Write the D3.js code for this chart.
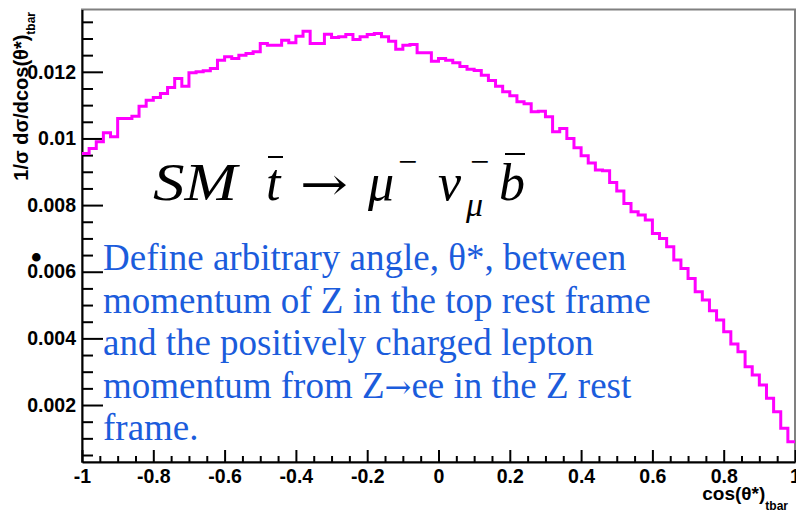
<!DOCTYPE html>
<html lang="en">
<head>
<meta charset="UTF-8">
<title>cos(theta*) tbar</title>
<script src="https://d3js.org/d3.v7.min.js"></script>
<style>
  body { margin: 0; background: #fff; }
  svg { display: block; }
  .axis path, .axis line { stroke: #000; stroke-width: 2px; }
  .axis text { font-family: "Liberation Sans", Arial, sans-serif; font-weight: bold; font-size: 19.5px; fill: #000; }
  .title { font-family: "Liberation Sans", Arial, sans-serif; font-weight: bold; fill: #000; }
  .math { font-family: "Liberation Serif", "Times New Roman", serif; font-style: italic; font-size: 52px; fill: #000; }
  .note { font-family: "Liberation Serif", "Times New Roman", serif; font-size: 37px; fill: #1b5cdc; }
</style>
</head>
<body>
<div id="chart"></div>
<script>
// histogram, 100 bins of cos(theta*) between -1 and 1
const xRange = [-1, 1];
const binCount = 100;
const binValues = [
  0.00955, 0.0097, 0.0099, 0.01017, 0.01005, 0.0106, 0.0106, 0.01067, 0.01097, 0.01115,
  0.01123, 0.01135, 0.01153, 0.0118, 0.01157, 0.01197, 0.012, 0.01203, 0.0121, 0.01235,
  0.01245, 0.0124, 0.0125, 0.01255, 0.0126, 0.01285, 0.0128, 0.0128, 0.01295, 0.01287,
  0.01307, 0.01322, 0.01285, 0.01285, 0.01313, 0.01303, 0.01305, 0.01312, 0.01297, 0.01305,
  0.01312, 0.01315, 0.01305, 0.01292, 0.01268, 0.0128, 0.01282, 0.01257, 0.01257, 0.01232,
  0.0124, 0.01235, 0.01227, 0.01216, 0.01208, 0.01204, 0.0119, 0.01174, 0.01157, 0.0114,
  0.01128, 0.0111, 0.01104, 0.0108, 0.01082, 0.01065, 0.0102, 0.0103, 0.0100, 0.00972,
  0.00948, 0.00926, 0.00905, 0.00903, 0.00868, 0.00842, 0.00805, 0.0078, 0.0077, 0.00755,
  0.00715, 0.007, 0.00675, 0.00635, 0.0061, 0.0058, 0.0054, 0.00515, 0.00483, 0.00455,
  0.0042, 0.00383, 0.0036, 0.00315, 0.0029, 0.0026, 0.0022, 0.0018, 0.0013, 0.0009
];

const yRange = [0.00029, 0.01387];
const xTicks = [-1, -0.8, -0.6, -0.4, -0.2, 0, 0.2, 0.4, 0.6, 0.8, 1];
const xTickLabels = ["-1", "-0.8", "-0.6", "-0.4", "-0.2", "0", "0.2", "0.4", "0.6", "0.8", "1"];
const yTicks = [0.002, 0.004, 0.006, 0.008, 0.01, 0.012];
const yTickLabels = ["0.002", "0.004", "0.006", "0.008", "0.01", "0.012"];

// blue note, the arrow of line 4 is split out to get a wider glyph
const noteLines = [
  ["Define arbitrary angle, θ*, between"],
  ["momentum of Z in the top rest frame"],
  ["and the positively charged lepton"],
  ["momentum from Z", "→", "ee in the Z rest"],
  ["frame."]
];

const width = 796, height = 518;
const svg = d3.select("#chart").append("svg")
    .attr("width", width)
    .attr("height", height);

const x = d3.scaleLinear().domain(xRange).range([82, 795]);
const y = d3.scaleLinear().domain(yRange).range([462, 9.5]);

// frame (top/right grey)
svg.append("rect")
    .attr("x", x(xRange[0])).attr("y", y(yRange[1]))
    .attr("width", x(xRange[1]) - x(xRange[0]))
    .attr("height", y(yRange[0]) - y(yRange[1]))
    .attr("fill", "none")
    .attr("stroke", "#808080")
    .attr("stroke-width", 2);

// minor ticks
const binWidth = (xRange[1] - xRange[0]) / binCount;
const xMinor = d3.range(-0.95, 1, 0.05).filter(v => Math.abs(Math.round(v * 5) - v * 5) > 1e-6);
const yMinor = d3.range(0.0005, yRange[1], 0.0005).filter(v => Math.abs(Math.round(v * 500) - v * 500) > 1e-6);

svg.append("g")
    .attr("class", "axis")
    .attr("transform", `translate(0,${y(yRange[0])})`)
    .call(d3.axisBottom(x).tickValues(xMinor).tickSizeInner(-6).tickSizeOuter(0).tickFormat(""))
    .call(g => g.select(".domain").remove());

svg.append("g")
    .attr("class", "axis")
    .attr("transform", `translate(${x(xRange[0])},0)`)
    .call(d3.axisLeft(y).tickValues(yMinor).tickSizeInner(-11).tickSizeOuter(0).tickFormat(""))
    .call(g => g.select(".domain").remove());

// major axes
svg.append("g")
    .attr("class", "axis")
    .attr("transform", `translate(0,${y(yRange[0])})`)
    .call(d3.axisBottom(x).tickValues(xTicks).tickSizeInner(-12).tickSizeOuter(0)
        .tickPadding(7).tickFormat((d, i) => xTickLabels[i]));

svg.append("g")
    .attr("class", "axis")
    .attr("transform", `translate(${x(xRange[0])},0)`)
    .call(d3.axisLeft(y).tickValues(yTicks).tickSizeInner(-21).tickSizeOuter(0)
        .tickPadding(6).tickFormat((d, i) => yTickLabels[i]));

// histogram step line
const pts = binValues.map((v, i) => [xRange[0] + i * binWidth, v]);
pts.push([xRange[1], binValues[binValues.length - 1]]);

svg.append("path")
    .datum(pts)
    .attr("fill", "none")
    .attr("stroke", "#ff00ff")
    .attr("stroke-width", 3)
    .attr("d", d3.line().x(d => x(d[0])).y(d => y(d[1])).curve(d3.curveStepAfter));

// axis titles
const yt = svg.append("text")
    .attr("class", "title")
    .attr("transform", "translate(28,12) rotate(-90)")
    .attr("text-anchor", "end")
    .style("font-size", "20px");
yt.append("tspan").text("1/σ dσ/dcos(θ*)");
yt.append("tspan").attr("dy", 7).style("font-size", "12px").text("tbar");

const xt = svg.append("text")
    .attr("class", "title")
    .attr("x", 788).attr("y", 500)
    .attr("text-anchor", "end")
    .style("font-size", "19px");
xt.append("tspan").text("cos(θ*)");
xt.append("tspan").attr("dy", 10).style("font-size", "12px").text("tbar");

// formula  SM tbar -> mu- nu_mu- bbar
const m = svg.append("g");
m.append("text").attr("class", "math").attr("x", 153).attr("y", 200)
    .attr("textLength", 84).attr("lengthAdjust", "spacingAndGlyphs").text("SM");
m.append("text").attr("class", "math").attr("x", 266).attr("y", 200).text("t");
m.append("text").attr("class", "math").attr("x", 300).attr("y", 200)
    .style("font-style", "normal").style("font-family", "DejaVu Serif, serif").style("font-size", "46px")
    .attr("textLength", 48).attr("lengthAdjust", "spacingAndGlyphs").text("→");
m.append("text").attr("class", "math").attr("x", 368).attr("y", 200).text("μ");
m.append("text").attr("class", "math").attr("x", 398).attr("y", 173)
    .style("font-style", "normal").style("font-size", "34px").text("−");
m.append("text").attr("class", "math").attr("x", 438).attr("y", 200).text("ν");
m.append("text").attr("class", "math").attr("x", 470).attr("y", 173)
    .style("font-style", "normal").style("font-size", "34px").text("−");
m.append("text").attr("class", "math").attr("x", 466).attr("y", 216)
    .style("font-size", "34px").text("μ");
m.append("text").attr("class", "math").attr("x", 499).attr("y", 200).text("b");
m.append("line").attr("x1", 268).attr("x2", 283).attr("y1", 157).attr("y2", 157)
    .attr("stroke", "#000").attr("stroke-width", 2);
m.append("line").attr("x1", 505).attr("x2", 525).attr("y1", 154).attr("y2", 154)
    .attr("stroke", "#000").attr("stroke-width", 2);

// bullet and blue note
svg.append("text")
    .attr("x", 30).attr("y", 270)
    .style("font-family", "Liberation Serif, serif")
    .style("font-size", "36px")
    .text("•");

const notes = svg.append("g").selectAll("text")
    .data(noteLines)
    .join("text")
    .attr("class", "note")
    .attr("x", 103)
    .attr("y", (d, i) => 270 + i * 42.5);

notes.selectAll("tspan")
    .data(d => d)
    .join("tspan")
    .style("font-family", d => d === "→" ? "DejaVu Serif, serif" : null)
    .style("font-size", d => d === "→" ? "32px" : null)
    .text(d => d);
</script>
</body>
</html>
